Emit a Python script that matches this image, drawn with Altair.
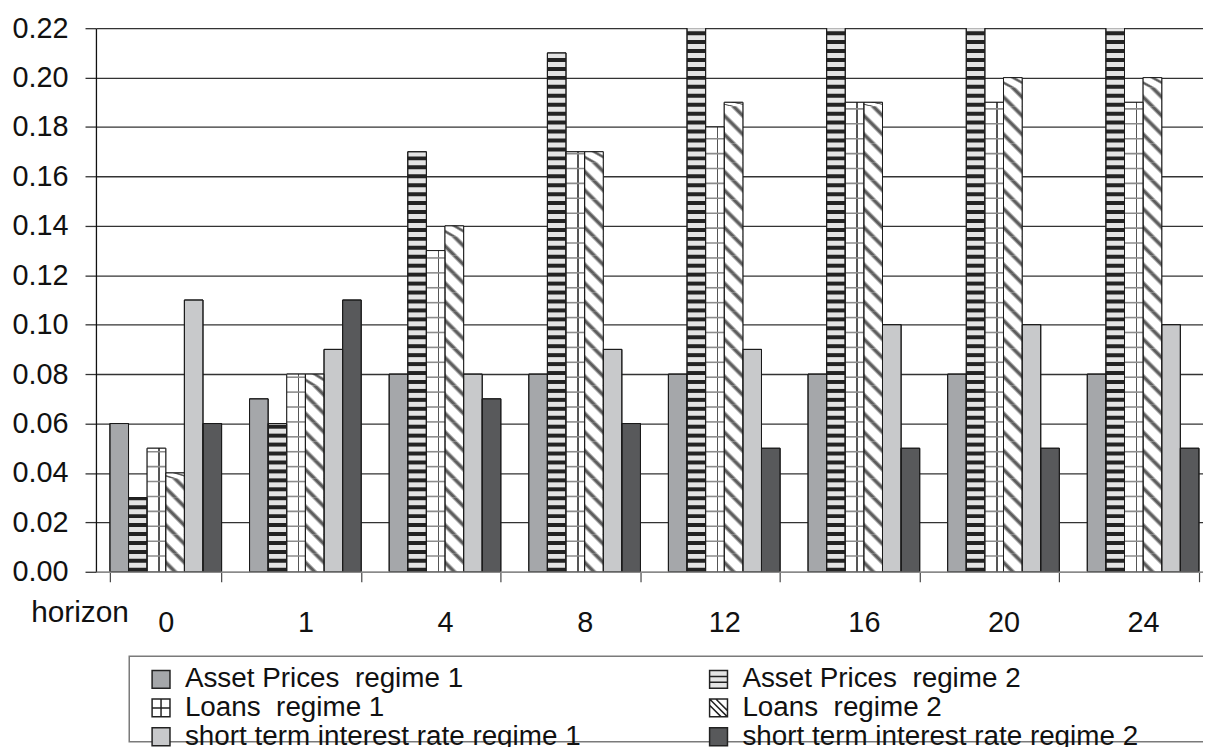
import altair as alt
import pandas as pd

# ---------------- data ----------------
horizons = ["0", "1", "4", "8", "12", "16", "20", "24"]
series = [
    "Asset Prices\u00a0 regime 1",
    "Asset Prices\u00a0 regime 2",
    "Loans\u00a0 regime 1",
    "Loans\u00a0 regime 2",
    "short term interest rate regime 1",
    "short term interest rate regime 2",
]
asset_prices_r1 = [0.06, 0.07, 0.08, 0.08, 0.08, 0.08, 0.08, 0.08]
asset_prices_r2 = [0.03, 0.06, 0.17, 0.21, 0.23, 0.24, 0.24, 0.25]
loans_r1 = [0.05, 0.08, 0.13, 0.17, 0.18, 0.19, 0.19, 0.19]
loans_r2 = [0.04, 0.08, 0.14, 0.17, 0.19, 0.19, 0.20, 0.20]
short_rate_r1 = [0.11, 0.09, 0.08, 0.09, 0.09, 0.10, 0.10, 0.10]
short_rate_r2 = [0.06, 0.11, 0.07, 0.06, 0.05, 0.05, 0.05, 0.05]
y_ticks = [0.00, 0.02, 0.04, 0.06, 0.08, 0.10, 0.12, 0.14, 0.16, 0.18, 0.20, 0.22]

all_values = [asset_prices_r1, asset_prices_r2, loans_r1, loans_r2,
              short_rate_r1, short_rate_r2]
rows = []
for s, vals in zip(series, all_values):
    for h, v in zip(horizons, vals):
        rows.append({"horizon": h, "series": s, "value": v})
df = pd.DataFrame(rows)

# ---------------- styles / layout ----------------
FONT = "Liberation Sans"
RANGE_W = 1124          # full band range (last group runs past the right edge)
PLOT_W = 1114
PLOT_H = 547
PX = PLOT_H / 0.22      # pixels per data unit
SUB_BAND = RANGE_W / 8 * 0.8 / 6

base_colors = ["#a5a7aa", "#e4e4e4", "#ffffff", "#ffffff", "#c8c9cb", "#58595b"]
stroke_colors = ["#222222"] * 6
shape_paths = [
    "square",
    "M-1,-1H1V1H-1Z M-1,-0.33H1 M-1,0.33H1",
    "M-1,-1H1V1H-1Z M0,-1V1 M-1,0H1",
    "M-1,-1H1V1H-1Z M-1,-1L1,1 M-0.3,-1L1,0.3 M-1,-0.3L0.3,1",
    "square",
    "square",
]

# legend fills column by column: order the legend scales so rows read pairwise
legend_idx = [0, 2, 4, 1, 3, 5]
legend_domain = [series[i] for i in legend_idx]
legend_fills = [base_colors[i] for i in legend_idx]
legend_shapes = [shape_paths[i] for i in legend_idx]
legend_strokes = [stroke_colors[i] for i in legend_idx]

legend = alt.Legend(
    title=None, orient="none", legendX=51.5, legendY=642.5,
    direction="vertical", columns=2, columnPadding=124, rowPadding=0,
    clipHeight=25,
    labelFont=FONT, labelFontSize=28, labelColor="#111111", labelLimit=800,
    labelOffset=10, symbolSize=324, symbolStrokeWidth=1.5, padding=0,
)

x_enc = alt.X(
    "horizon:N", sort=horizons,
    scale=alt.Scale(domain=horizons, range=[0, RANGE_W], paddingInner=0.2, paddingOuter=0.1),
    axis=alt.Axis(
        title="horizon", titleFont=FONT, titleFontSize=30, titleFontWeight="normal",
        titleColor="#111111", titleX=-16.5, titleY=50, titleAlign="center",
        titleBaseline="alphabetic", titleAngle=0,
        labelFont=FONT, labelFontSize=29, labelColor="#111111", labelAngle=0,
        labelPadding=27, tickBand="extent", tickSize=10, tickColor="#444444",
        tickWidth=1.2, domainColor="#8a8a8a", domainWidth=1.6, grid=False, zindex=1,
    ),
)
xo_enc = alt.XOffset("series:N", sort=series,
                     scale=alt.Scale(domain=series, paddingInner=0, paddingOuter=0))
y_axis = alt.Axis(
    values=y_ticks, format=".2f", title=None,
    labelFont=FONT, labelFontSize=29, labelColor="#111111", labelPadding=17,
    tickSize=11, tickColor="#333333", tickWidth=1.3,
    grid=True, gridColor="#333333", gridWidth=1.3,
    domainColor="#111111", domainWidth=1.3,
)
y_scale = alt.Scale(domain=[0, 0.22], nice=False, zero=True)

def y_of(field):
    return alt.Y(field, scale=y_scale, axis=y_axis)

fill_enc = alt.Fill("series:N", sort=legend_domain,
                    scale=alt.Scale(domain=legend_domain, range=legend_fills), legend=legend)

# base bars
base = alt.Chart(df).mark_bar(stroke="#1a1a1a", strokeWidth=1, clip=True).encode(
    x=x_enc, xOffset=xo_enc, y=y_of("value:Q"), fill=fill_enc
)

# horizontal stripes: Asset Prices regime 2
ap2_period = 9 / PX
ap2_stripe = 4 / PX
ap2 = (
    alt.Chart(df)
    .transform_filter(alt.datum.series == series[1])
    .transform_calculate(s=f"sequence(0, datum.value, {ap2_period})")
    .transform_flatten(["s"])
    .transform_calculate(e=f"min(datum.s + {ap2_stripe}, datum.value)")
    .mark_bar(fill="#232323", clip=True)
    .encode(x=x_enc, xOffset=xo_enc, y=y_of("s:Q"), y2="e:Q")
)

# grid: Loans regime 1 (vertical line via gradient, horizontal lines via sequence)
vgrad = alt.LinearGradient(
    gradient="linear", x1=0, y1=0, x2=1, y2=0,
    stops=[
        alt.GradientStop(offset=0, color="#ffffff"),
        alt.GradientStop(offset=0.6, color="#ffffff"),
        alt.GradientStop(offset=0.6, color="#555555"),
        alt.GradientStop(offset=0.68, color="#555555"),
        alt.GradientStop(offset=0.68, color="#ffffff"),
        alt.GradientStop(offset=1, color="#ffffff"),
    ],
)
l1_base = (
    alt.Chart(df)
    .transform_filter(alt.datum.series == series[2])
    .mark_bar(fill=vgrad, clip=True)
    .encode(x=x_enc, xOffset=xo_enc, y=y_of("value:Q"))
)
l1_period = 15 / PX
l1_line = 1.6 / PX
l1_lines = (
    alt.Chart(df)
    .transform_filter(alt.datum.series == series[2])
    .transform_calculate(s=f"sequence({l1_period}, datum.value, {l1_period})")
    .transform_flatten(["s"])
    .transform_calculate(e=f"min(datum.s + {l1_line}, datum.value)")
    .mark_bar(fill="#8c8c8c", clip=True)
    .encode(x=x_enc, xOffset=xo_enc, y=y_of("s:Q"), y2="e:Q")
)

# diagonal hatch: Loans regime 2 (square tiles with a 45-degree gradient)
dgrad = alt.LinearGradient(
    gradient="linear", x1=0, y1=1, x2=1, y2=0,
    stops=[
        alt.GradientStop(offset=0, color="#ffffff"),
        alt.GradientStop(offset=0.14, color="#ffffff"),
        alt.GradientStop(offset=0.22, color="#5e5e5e"),
        alt.GradientStop(offset=0.28, color="#5e5e5e"),
        alt.GradientStop(offset=0.36, color="#ffffff"),
        alt.GradientStop(offset=0.64, color="#ffffff"),
        alt.GradientStop(offset=0.72, color="#5e5e5e"),
        alt.GradientStop(offset=0.78, color="#5e5e5e"),
        alt.GradientStop(offset=0.86, color="#ffffff"),
        alt.GradientStop(offset=1, color="#ffffff"),
    ],
)
tile = SUB_BAND / PX
l2 = (
    alt.Chart(df)
    .transform_filter(alt.datum.series == series[3])
    .transform_calculate(s=f"sequence(0, datum.value, {tile})")
    .transform_flatten(["s"])
    .transform_calculate(e=f"min(datum.s + {tile}, datum.value)")
    .mark_bar(fill=dgrad, clip=True)
    .encode(x=x_enc, xOffset=xo_enc, y=y_of("s:Q"), y2="e:Q")
)

# outlines on top
outline = alt.Chart(df).mark_bar(fill="transparent", stroke="#1a1a1a",
                                 strokeWidth=1, clip=True).encode(
    x=x_enc, xOffset=xo_enc, y=y_of("value:Q")
)

# legend carrier (no visible points)
legend_layer = (
    alt.Chart(df)
    .transform_filter("false")
    .mark_point(filled=True, size=324, strokeWidth=1.5)
    .encode(
        x=x_enc, xOffset=xo_enc, y=y_of("value:Q"),
        fill=fill_enc,
        shape=alt.Shape("series:N", sort=legend_domain,
                        scale=alt.Scale(domain=legend_domain, range=legend_shapes), legend=legend),
        stroke=alt.Stroke("series:N", sort=legend_domain,
                          scale=alt.Scale(domain=legend_domain, range=legend_strokes), legend=legend),
    )
)

# legend frame
frame = alt.Chart(pd.DataFrame({"k": [0]})).mark_rect(
    fill="transparent", stroke="#7a7a7a", strokeWidth=1.5
).encode(x=alt.value(33.5), x2=alt.value(1140), y=alt.value(632), y2=alt.value(718))

chart = (
    alt.layer(base, ap2, l1_base, l1_lines, l2, outline, legend_layer, frame)
    .properties(
        width=PLOT_W, height=PLOT_H,
        autosize=alt.AutoSizeParams(type="none"),
        padding={"left": 88.5, "top": 18, "right": 0, "bottom": 174},
        background="white",
    )
    .configure(font=FONT)
    .configure_view(stroke=None)
)

chart.save("out.html", embed_options={"renderer": "svg", "actions": False})
